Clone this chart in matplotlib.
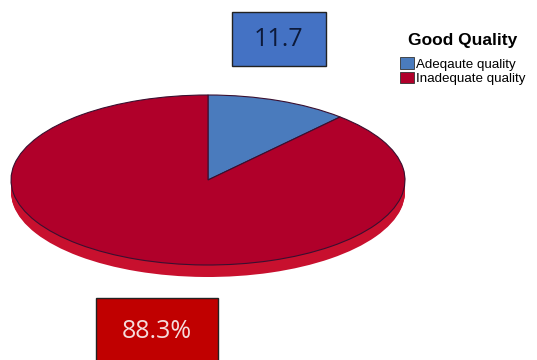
import matplotlib.pyplot as plt
from matplotlib.patches import Rectangle, Patch
import numpy as np

labels = ["Adeqaute quality", "Inadequate quality"]
values = [11.7, 88.3]
top_colors = ["#4a7bbd", "#b0002a"]
side_colors = ["#3a64a0", "#c8102e"]

W, H = 537, 360
fig = plt.figure(figsize=(W / 100, H / 100), dpi=100)
ax = fig.add_axes([0, 0, 1, 1])

# squash the pie into an ellipse by stretching y units
k = 85 / 197
cx, r = 208, 197
depth = 12 / k

for d in np.linspace(depth, 0, 14)[:-1]:
    ax.pie(values, colors=side_colors, startangle=90, counterclock=False,
           center=(cx, -d), radius=r, wedgeprops=dict(linewidth=0))

wedges, _ = ax.pie(values, colors=top_colors, startangle=90, counterclock=False,
                   center=(cx, 0), radius=r,
                   wedgeprops=dict(linewidth=0.8, edgecolor="#3a1030"))

ax.set_aspect("auto")
ax.set_xlim(0, W)
ax.set_ylim(-(H - 180) / k, 180 / k)
ax.axis("off")

# value boxes
def value_box(x0, y0, w, h, face, txt, tcolor):
    fig.add_artist(Rectangle((x0 / W, 1 - (y0 + h) / H), w / W, h / H,
                             transform=fig.transFigure, facecolor=face,
                             edgecolor="#222222", linewidth=1))
    fig.text((x0 + w / 2) / W, 1 - (y0 + h / 2) / H, txt, ha="center", va="center",
             fontsize=18, color=tcolor, family="Open Sans")

value_box(232, 12, 94, 54, "#4472c4", f"{values[0]}", "#0d1a3a")
value_box(96, 298, 122, 66, "#c00000", f"{values[1]}%", "#f5dcdc")

fig.text(408 / W, 1 - 41 / H, "Good Quality", ha="left", va="center",
         fontsize=12.5, fontweight="bold", family="Liberation Sans")

handles = [Patch(facecolor=c, edgecolor="#333333", linewidth=0.6) for c in top_colors]
leg = ax.legend(handles, labels, loc="upper left",
                bbox_to_anchor=(391 / W, 1 - 48 / H), frameon=False,
                prop=dict(family="Liberation Sans", size=9.6),
                handlelength=1.0, handleheight=1.0,
                handletextpad=0.2, labelspacing=0.05, borderpad=0.2)

fig.savefig("out.png", dpi=100)
